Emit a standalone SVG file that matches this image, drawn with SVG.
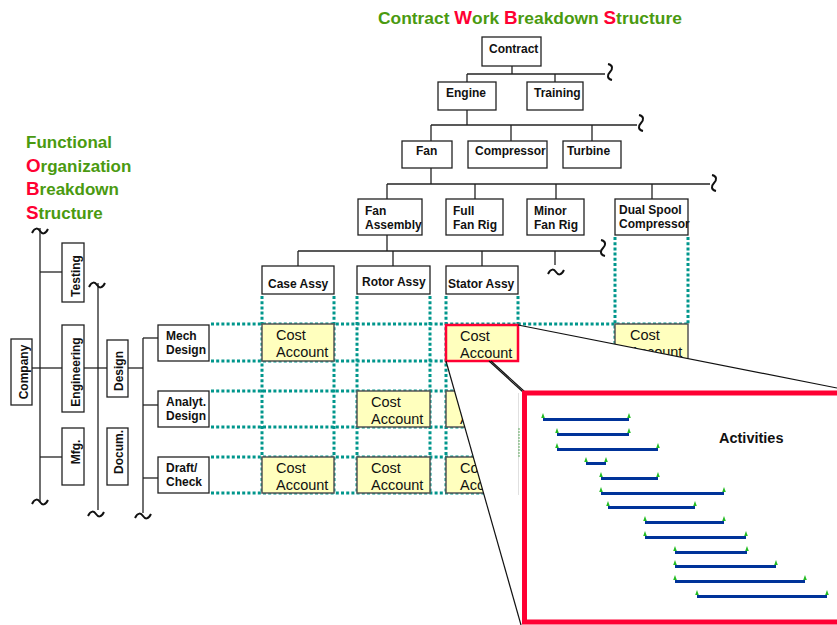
<svg xmlns="http://www.w3.org/2000/svg" xmlns:xlink="http://www.w3.org/1999/xlink" width="837" height="625" viewBox="0 0 837 625">
<style>
.box{fill:#fff;stroke:#222;stroke-width:1.3}
.ca{fill:#ffffbe;stroke:#555;stroke-width:1.5}
.lbl{font-family:"Liberation Sans",Arial,sans-serif;font-weight:bold;font-size:12px;fill:#111}
.cat{font-family:"Liberation Sans",Arial,sans-serif;font-size:14.5px;fill:#111}
.ttl{font-family:"Liberation Sans",Arial,sans-serif;font-weight:bold;font-size:17px;fill:#4a9a10}
.big{font-size:17.4px}
.red{fill:#ff0033;font-size:18.8px}
.con line{stroke:#222;stroke-width:1.3}
.dot line{stroke:#00968c;stroke-width:3;stroke-dasharray:3 2.2}
.tl{fill:none;stroke:#111;stroke-width:2}
.bar{stroke:#003399;stroke-width:3}
.beam{stroke:#111;stroke-width:1.2}
</style>
<defs>
<path id="th" d="M-8,2 C-5,-4 -2,-3 0,0 C2,3 5,4 8,-2"/>
<path id="tv" d="M-2,-8 C3,-7 3,-3 0,0 C-3,3 -3,7 2,8"/>
<path id="mk" d="M0,-5 L1.8,0 L-1.8,0 Z" fill="#22bb22"/>
</defs>

<text class="ttl big" x="378" y="24">Contract <tspan class="red">W</tspan>ork <tspan class="red">B</tspan>reakdown <tspan class="red">S</tspan>tructure</text>
<text class="ttl" x="26" y="148">Functional</text>
<text class="ttl" x="26" y="172"><tspan class="red">O</tspan>rganization</text>
<text class="ttl" x="26" y="195"><tspan class="red">B</tspan>reakdown</text>
<text class="ttl" x="26" y="219"><tspan class="red">S</tspan>tructure</text>

<g id="connectors" class="con">
<line x1="512" y1="66" x2="512" y2="74"/>
<line x1="467" y1="74" x2="605" y2="74"/>
<line x1="467" y1="74" x2="467" y2="82"/>
<line x1="555" y1="74" x2="555" y2="82"/>
<line x1="467" y1="110" x2="467" y2="125"/>
<line x1="431" y1="125" x2="637" y2="125"/>
<line x1="431" y1="125" x2="431" y2="141"/>
<line x1="511" y1="125" x2="511" y2="141"/>
<line x1="592" y1="125" x2="592" y2="141"/>
<line x1="431" y1="168" x2="431" y2="184"/>
<line x1="387" y1="184" x2="710" y2="184"/>
<line x1="387" y1="184" x2="387" y2="199"/>
<line x1="475" y1="184" x2="475" y2="199"/>
<line x1="556" y1="184" x2="556" y2="199"/>
<line x1="652" y1="184" x2="652" y2="199"/>
<line x1="387" y1="235" x2="387" y2="251"/>
<line x1="298" y1="251" x2="600" y2="251"/>
<line x1="298" y1="251" x2="298" y2="266"/>
<line x1="393" y1="251" x2="393" y2="266"/>
<line x1="482" y1="251" x2="482" y2="266"/>
<line x1="555" y1="251" x2="555" y2="265"/>
<line x1="40" y1="228" x2="40" y2="502"/>
<line x1="40" y1="272" x2="62" y2="272"/>
<line x1="32" y1="368" x2="62" y2="368"/>
<line x1="40" y1="457" x2="62" y2="457"/>
<line x1="84" y1="368" x2="107" y2="368"/>
<line x1="98" y1="283" x2="98" y2="510"/>
<line x1="128" y1="368" x2="143" y2="368"/>
<line x1="143" y1="338" x2="143" y2="513"/>
<line x1="143" y1="338" x2="158" y2="338"/>
<line x1="143" y1="405" x2="158" y2="405"/>
<line x1="143" y1="478" x2="158" y2="478"/>
<use xlink:href="#tv" class="tl" x="610" y="72"/>
<use xlink:href="#tv" class="tl" x="641" y="123"/>
<use xlink:href="#tv" class="tl" x="714" y="183"/>
<use xlink:href="#tv" class="tl" x="603" y="248"/>
<use xlink:href="#th" class="tl" x="556" y="272"/>
<use xlink:href="#th" class="tl" x="40" y="231"/>
<use xlink:href="#th" class="tl" x="40" y="502"/>
<use xlink:href="#th" class="tl" x="97" y="285"/>
<use xlink:href="#th" class="tl" x="96" y="514"/>
<use xlink:href="#th" class="tl" x="143" y="516"/>
</g>

<g id="n-contract"><rect class="box" x="482" y="37" width="59" height="29"/><text class="lbl" x="489" y="53">Contract</text></g>
<g id="n-engine"><rect class="box" x="438" y="82" width="58" height="28"/><text class="lbl" x="446" y="97">Engine</text></g>
<g id="n-training"><rect class="box" x="527" y="82" width="56" height="28"/><text class="lbl" x="534" y="97">Training</text></g>
<g id="n-fan"><rect class="box" x="402" y="141" width="50" height="27"/><text class="lbl" x="416" y="155">Fan</text></g>
<g id="n-compressor"><rect class="box" x="468" y="141" width="79" height="27"/><text class="lbl" x="475" y="155">Compressor</text></g>
<g id="n-turbine"><rect class="box" x="563" y="141" width="58" height="27"/><text class="lbl" x="567" y="155">Turbine</text></g>
<g id="n-fanassy"><rect class="box" x="358" y="199" width="64" height="36"/><text class="lbl" x="365" y="215">Fan</text><text class="lbl" x="365" y="229">Assembly</text></g>
<g id="n-fullfan"><rect class="box" x="446" y="199" width="57" height="36"/><text class="lbl" x="453" y="215">Full</text><text class="lbl" x="453" y="229">Fan Rig</text></g>
<g id="n-minorfan"><rect class="box" x="527" y="199" width="57" height="36"/><text class="lbl" x="534" y="215">Minor</text><text class="lbl" x="534" y="229">Fan Rig</text></g>
<g id="n-dualspool"><rect class="box" x="615" y="199" width="73" height="36"/><text class="lbl" x="619" y="214">Dual Spool</text><text class="lbl" x="619" y="228">Compressor</text></g>
<g id="n-case"><rect class="box" x="262" y="266" width="72" height="28"/><text class="lbl" x="268" y="288">Case Assy</text></g>
<g id="n-rotor"><rect class="box" x="357" y="266" width="73" height="28"/><text class="lbl" x="362" y="286">Rotor Assy</text></g>
<g id="n-stator"><rect class="box" x="446" y="266" width="72" height="28"/><text class="lbl" x="448" y="288">Stator Assy</text></g>

<g id="n-company"><rect class="box" x="11" y="339" width="21" height="66"/><text class="lbl" text-anchor="middle" transform="translate(28,372) rotate(-90)">Company</text></g>
<g id="n-testing"><rect class="box" x="62" y="243" width="22" height="59"/><text class="lbl" text-anchor="middle" transform="translate(80,276) rotate(-90)">Testing</text></g>
<g id="n-engineering"><rect class="box" x="62" y="325" width="22" height="87"/><text class="lbl" text-anchor="middle" transform="translate(80,372) rotate(-90)">Engineering</text></g>
<g id="n-mfg"><rect class="box" x="62" y="428" width="22" height="57"/><text class="lbl" text-anchor="middle" transform="translate(80,452) rotate(-90)">Mfg.</text></g>
<g id="n-design"><rect class="box" x="107" y="340" width="21" height="57"/><text class="lbl" text-anchor="middle" transform="translate(123,371) rotate(-90)">Design</text></g>
<g id="n-docum"><rect class="box" x="107" y="428" width="21" height="57"/><text class="lbl" text-anchor="middle" transform="translate(123,452) rotate(-90)">Docum.</text></g>
<g id="n-mech"><rect class="box" x="158" y="325" width="51" height="36"/><text class="lbl" x="166" y="340">Mech</text><text class="lbl" x="166" y="354">Design</text></g>
<g id="n-analyt"><rect class="box" x="158" y="391" width="51" height="36"/><text class="lbl" x="166" y="406">Analyt.</text><text class="lbl" x="166" y="420">Design</text></g>
<g id="n-draft"><rect class="box" x="158" y="457" width="51" height="36"/><text class="lbl" x="166" y="472">Draft/</text><text class="lbl" x="166" y="486">Check</text></g>

<g id="grid" class="dot">
<line x1="262" y1="296" x2="262" y2="493"/>
<line x1="334" y1="296" x2="334" y2="493"/>
<line x1="357" y1="296" x2="357" y2="493"/>
<line x1="430" y1="296" x2="430" y2="493"/>
<line x1="446" y1="296" x2="446" y2="493"/>
<line x1="518" y1="296" x2="518" y2="493"/>
<line x1="615" y1="237" x2="615" y2="493"/>
<line x1="688" y1="237" x2="688" y2="324"/>
<line x1="211" y1="324" x2="688" y2="324"/>
<line x1="211" y1="361" x2="688" y2="361"/>
<line x1="211" y1="391" x2="688" y2="391"/>
<line x1="211" y1="427" x2="688" y2="427"/>
<line x1="211" y1="457" x2="688" y2="457"/>
<line x1="211" y1="493" x2="688" y2="493"/>
</g>

<g id="ca-case-mech"><rect class="ca" x="262" y="324" width="72" height="37"/><text class="cat" x="276" y="340">Cost</text><text class="cat" x="276" y="357">Account</text></g>
<g id="ca-dual-mech"><rect class="ca" x="615" y="324" width="73" height="37"/><text class="cat" x="630" y="340">Cost</text><text class="cat" x="630" y="357">Account</text></g>
<g id="ca-rotor-analyt"><rect class="ca" x="357" y="391" width="73" height="36"/><text class="cat" x="371" y="407">Cost</text><text class="cat" x="371" y="424">Account</text></g>
<g id="ca-stator-analyt"><rect class="ca" x="446" y="391" width="72" height="36"/><text class="cat" x="460" y="407">Cost</text><text class="cat" x="460" y="424">Account</text></g>
<g id="ca-case-draft"><rect class="ca" x="262" y="457" width="72" height="36"/><text class="cat" x="276" y="473">Cost</text><text class="cat" x="276" y="490">Account</text></g>
<g id="ca-rotor-draft"><rect class="ca" x="357" y="457" width="73" height="36"/><text class="cat" x="371" y="473">Cost</text><text class="cat" x="371" y="490">Account</text></g>
<g id="ca-stator-draft"><rect class="ca" x="446" y="457" width="72" height="36"/><text class="cat" x="460" y="473">Cost</text><text class="cat" x="460" y="490">Account</text></g>

<polygon points="518,325 840,388 840,625 521,625 446,361 518,361" fill="#fff"/>

<g id="ca-stator-mech"><rect x="446" y="325" width="72" height="36" fill="#ffffbe" stroke="#ff0033" stroke-width="2.5"/><text class="cat" x="460" y="341">Cost</text><text class="cat" x="460" y="358">Account</text></g>

<g id="beam">
<line class="beam" x1="518" y1="325" x2="837" y2="388"/>
<line class="beam" x1="446" y1="361" x2="521" y2="625"/>
<line class="beam" x1="489" y1="361" x2="523" y2="392"/>
<line class="beam" x1="491" y1="361" x2="525" y2="392"/>
<line x1="518.5" y1="393" x2="518.5" y2="495" stroke="#e0e0e0" stroke-width="1"/>
<line x1="519" y1="428" x2="519" y2="457" stroke="#3a9a3a" stroke-width="0.8" stroke-dasharray="2 1"/>
</g>

<g id="activities">
<rect x="524.5" y="393" width="400" height="229" fill="#fff" stroke="#ff0033" stroke-width="5"/>
<text class="lbl" style="font-size:14.5px" x="719" y="443">Activities</text>
<line class="bar" x1="543" y1="419.5" x2="629" y2="419.5"/>
<line class="bar" x1="557" y1="434.5" x2="629" y2="434.5"/>
<line class="bar" x1="557" y1="449.5" x2="658" y2="449.5"/>
<line class="bar" x1="586" y1="463.5" x2="606" y2="463.5"/>
<line class="bar" x1="601" y1="478.5" x2="658" y2="478.5"/>
<line class="bar" x1="601" y1="493.5" x2="724" y2="493.5"/>
<line class="bar" x1="608" y1="507.5" x2="695" y2="507.5"/>
<line class="bar" x1="645" y1="522.5" x2="724" y2="522.5"/>
<line class="bar" x1="645" y1="537.5" x2="746" y2="537.5"/>
<line class="bar" x1="675" y1="552.5" x2="747" y2="552.5"/>
<line class="bar" x1="675" y1="566.5" x2="776" y2="566.5"/>
<line class="bar" x1="675" y1="581.5" x2="805" y2="581.5"/>
<line class="bar" x1="697" y1="596.5" x2="827" y2="596.5"/>
<use xlink:href="#mk" x="543" y="418"/><use xlink:href="#mk" x="629" y="418"/>
<use xlink:href="#mk" x="557" y="433"/><use xlink:href="#mk" x="629" y="433"/>
<use xlink:href="#mk" x="557" y="448"/><use xlink:href="#mk" x="658" y="448"/>
<use xlink:href="#mk" x="586" y="462"/><use xlink:href="#mk" x="606" y="462"/>
<use xlink:href="#mk" x="601" y="477"/><use xlink:href="#mk" x="658" y="477"/>
<use xlink:href="#mk" x="601" y="492"/><use xlink:href="#mk" x="724" y="492"/>
<use xlink:href="#mk" x="608" y="506"/><use xlink:href="#mk" x="695" y="506"/>
<use xlink:href="#mk" x="645" y="521"/><use xlink:href="#mk" x="724" y="521"/>
<use xlink:href="#mk" x="645" y="536"/><use xlink:href="#mk" x="746" y="536"/>
<use xlink:href="#mk" x="675" y="551"/><use xlink:href="#mk" x="747" y="551"/>
<use xlink:href="#mk" x="675" y="565"/><use xlink:href="#mk" x="776" y="565"/>
<use xlink:href="#mk" x="675" y="580"/><use xlink:href="#mk" x="805" y="580"/>
<use xlink:href="#mk" x="697" y="595"/><use xlink:href="#mk" x="827" y="595"/>
</g>
</svg>
